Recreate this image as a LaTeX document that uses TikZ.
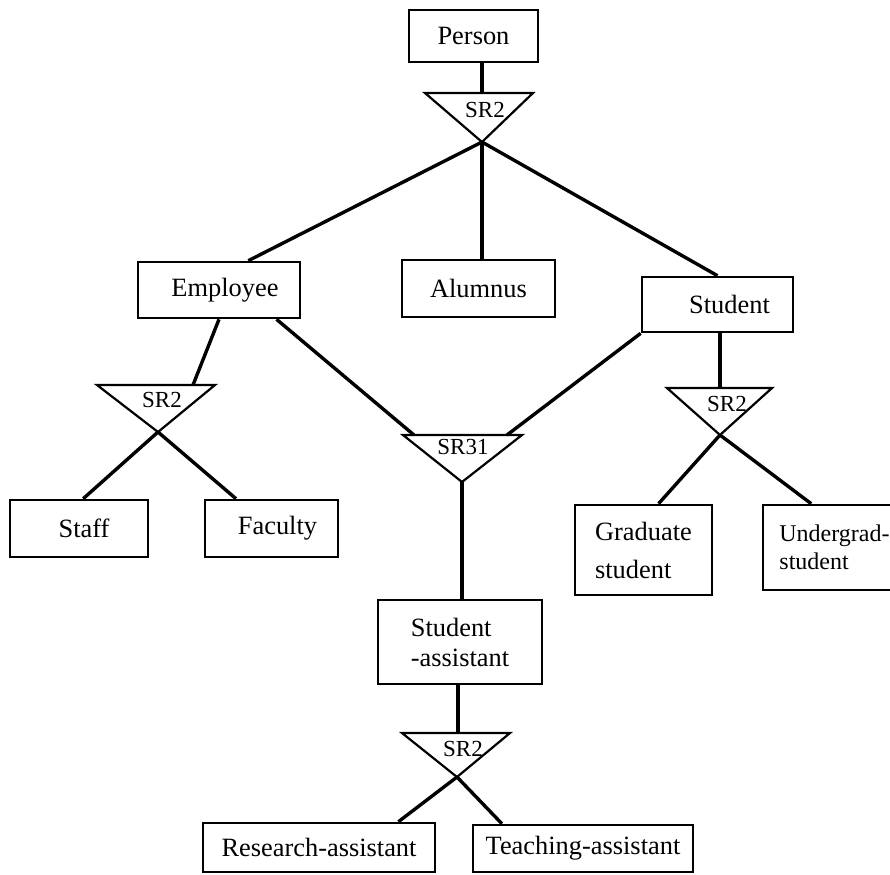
\documentclass[tikz,border=0pt]{standalone}
\usepackage{fontspec}
\setmainfont{Liberation Serif}
\begin{document}
\begin{tikzpicture}[x=0.5pt,y=-0.5pt,
  box/.style={draw,line width=1.3pt,inner sep=0pt,font=\fontsize{13.2}{16}\selectfont},
  link/.style={line width=1.7pt},
  srtri/.style={line width=1.1pt,line join=miter},
  srlab/.style={font=\fontsize{11.5}{12}\selectfont,inner sep=0pt}]
\clip (0,0) rectangle (890,874);

% entity boxes
\node[box,minimum width=64.5pt,minimum height=26pt] (person) at (473.5,36) {Person};
\node[box,minimum width=81pt,minimum height=28pt] (employee) at (219,290) {\hspace*{6pt}Employee};
\node[box,minimum width=76.5pt,minimum height=28.5pt] (alumnus) at (478.5,288.5) {Alumnus};
\node[box,minimum width=75.5pt,minimum height=27.5pt] (student) at (717.5,304.5) {\hspace*{12pt}Student};
\node[box,minimum width=69pt,minimum height=28.5pt] (staff) at (79,528.5) {\hspace*{5pt}Staff};
\node[box,minimum width=66.5pt,minimum height=28.5pt] (faculty) at (271.5,528.5) {\hspace*{6pt}Faculty};
\node[box,minimum width=82pt,minimum height=42pt,align=left] (sassist) at (460,642) {Student\\[-1pt]-assistant};
\node[box,minimum width=68.5pt,minimum height=45pt,align=left] (graduate) at (643.5,550) {Graduate\\[3pt]student};
\node[box,minimum width=71.5pt,minimum height=42.5pt,align=left,
  font=\fontsize{12}{14}\selectfont] (undergrad) at (834.5,547.5) {Undergrad-\\student};
\node[box,minimum width=116pt,minimum height=24.5pt] (research) at (319,847.5) {Research-assistant};
\node[box,minimum width=110pt,minimum height=23.5pt] (teaching) at (583,848.5) {Teaching-assistant};

% SR triangles
\coordinate (sr1) at (482,142);
\coordinate (sr1t) at (482,93);
\draw[srtri] (425,93) -- (533,93) -- (sr1) -- cycle;
\node[srlab] at (485,110) {SR2};

\coordinate (sr2) at (158,432);
\coordinate (sr2t) at (193,385);
\draw[srtri] (97,385) -- (215,385) -- (sr2) -- cycle;
\node[srlab] at (162,400) {SR2};

\coordinate (sr3) at (462,482);
\coordinate (sr3l) at (414,435);
\coordinate (sr3r) at (507,435);
\draw[srtri] (403,435) -- (522,435) -- (sr3) -- cycle;
\node[srlab] at (463,447) {SR31};

\coordinate (sr4) at (720,435);
\coordinate (sr4t) at (720,388);
\draw[srtri] (667,388) -- (772,388) -- (sr4) -- cycle;
\node[srlab] at (727,404) {SR2};

\coordinate (sr5) at (457,777);
\coordinate (sr5t) at (458,733);
\draw[srtri] (402,733) -- (510,733) -- (sr5) -- cycle;
\node[srlab] at (463,749) {SR2};

% connectors
\draw[link] (person.south -| sr1t) -- (sr1t);
\draw[link] (sr1) -- (employee.45);
\draw[link] (sr1) -- (sr1 |- alumnus.north);
\draw[link] (sr1) -- (student.north);
\draw[link] (employee.south) -- (sr2t);
\draw[link] (employee.-27) -- (sr3l);
\draw[link] (student.south west) -- (sr3r);
\draw[link] (student.south -| sr4t) -- (sr4t);
\draw[link] (sr2) -- (staff.82);
\draw[link] (sr2) -- (faculty.140);
\draw[link] (sr3) -- (sr3 |- sassist.north);
\draw[link] (sassist.south -| sr5t) -- (sr5t);
\draw[link] (sr4) -- (graduate.72);
\draw[link] (sr4) -- (undergrad.118);
\draw[link] (sr5) -- (research.18);
\draw[link] (sr5) -- (teaching.163);
\end{tikzpicture}
\end{document}
